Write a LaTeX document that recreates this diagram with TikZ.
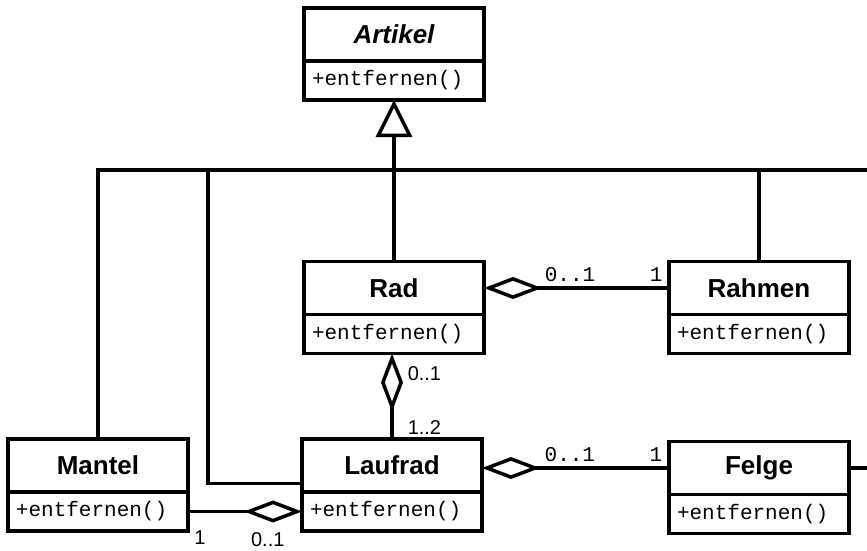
\documentclass[tikz,border=0pt]{standalone}
\usepackage{fontspec}
\setmainfont{Liberation Sans}
\newfontfamily\codefont{Liberation Mono}
\usetikzlibrary{arrows.meta,positioning}

\tikzset{
  cls/.style={draw, line width=3.5pt, outer sep=0pt, inner sep=0pt,
    minimum width=180pt, minimum height=53pt,
    font=\fontsize{26}{30}\selectfont\bfseries},
  ops/.style={draw, line width=3.5pt, outer sep=0pt, inner xsep=8pt, inner ysep=0pt,
    text width=164pt, minimum height=39pt, align=left,
    font=\fontsize{21}{24}\selectfont\codefont},
  link/.style={line width=3.5pt},
  agg/.style={link, -{Diamond[open, length=58pt, width=22pt]}},
  gen/.style={link, -{Triangle[open, length=37pt, width=36pt]}},
  mult/.style={font=\fontsize{20}{24}\selectfont, inner sep=2pt},
  cmult/.style={font=\fontsize{21}{24}\selectfont\codefont, inner sep=2pt},
}

\begin{document}
\begin{tikzpicture}[x=1pt, y=-1pt]
\useasboundingbox (0,0) rectangle (867,550);

% classes
\node[cls] (artikel) at (394,34.5) {\itshape Artikel};
\node[ops, below=0pt of artikel] (artikelm) {+entfernen()};

\node[cls] (rad) at (394,288) {Rad};
\node[ops, below=0pt of rad] (radm) {+entfernen()};

\node[cls] (rahmen) at (759,288) {Rahmen};
\node[ops, below=0pt of rahmen] (rahmenm) {+entfernen()};

\node[cls] (mantel) at (98,465.5) {Mantel};
\node[ops, below=0pt of mantel] (mantelm) {+entfernen()};

\node[cls] (laufrad) at (392,465.5) {Laufrad};
\node[ops, below=0pt of laufrad] (laufradm) {+entfernen()};

\node[cls] (felge) at (759,468) {Felge};
\node[ops, below=0pt of felge] (felgem) {+entfernen()};

% generalization tree
\coordinate (barR) at (870,170);
\coordinate (tapL) at (208,170);
\coordinate (felgeR) at (870,468);
\draw[link] (mantel.north) |- (barR);
\draw[link] ([yshift=-18pt]laufrad.west) -| (tapL);
\draw[link] (rad.north) -- (rad.north |- barR);
\draw[link] (rahmen.north) -- (rahmen.north |- barR);
\draw[gen] (artikelm.south |- barR) -- (artikelm.south);
\draw[link] (felge.east) -- (felgeR);

% aggregations
\draw[agg] (rahmen.west) -- (rad.east)
  node[cmult, pos=0.07, above=3pt] {1}
  node[cmult, pos=0.535, above=3pt] {0..1};
\draw[agg] (felge.west) -- (felge.west -| laufrad.east)
  node[cmult, pos=0.07, above=3pt] {1}
  node[cmult, pos=0.53, above=3pt] {0..1};
\draw[agg] (laufrad.north) -- (laufrad.north |- radm.south)
  node[mult, pos=0.13, right=12pt] {1..2}
  node[mult, pos=0.76, right=12pt] {0..1};
\draw[agg] (mantelm.east) -- (laufradm.west)
  node[mult, pos=0.105, below=15pt] {1}
  node[mult, pos=0.7, below=17pt] {0..1};
\end{tikzpicture}
\end{document}
